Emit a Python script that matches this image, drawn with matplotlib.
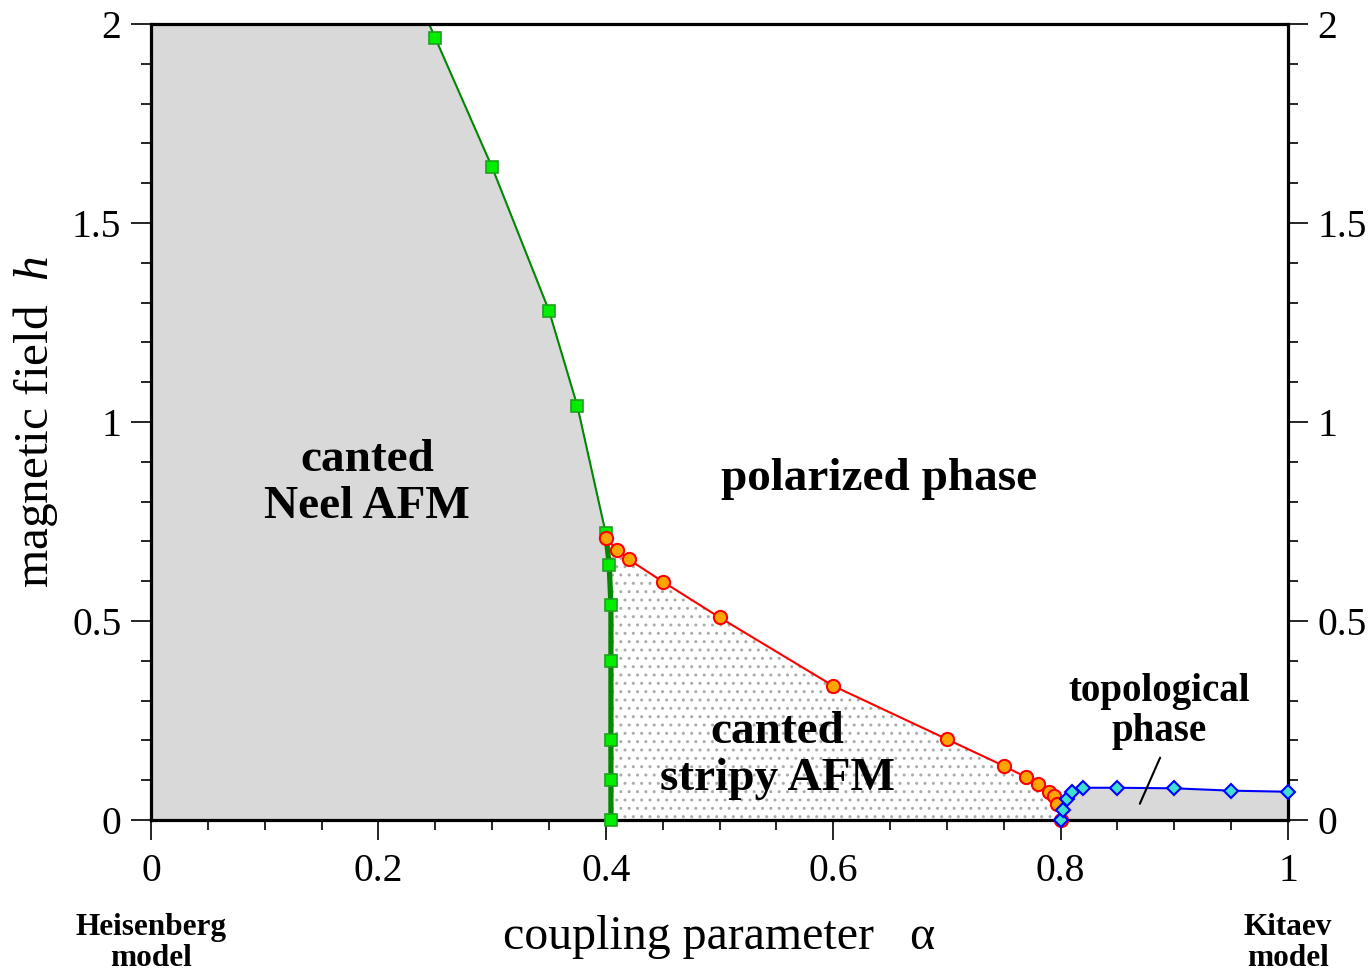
import numpy as np
import matplotlib
matplotlib.use("Agg")
import matplotlib.pyplot as plt
from matplotlib.ticker import MultipleLocator, FuncFormatter

# ---- data ----
green_alpha = [0.2446, 0.25, 0.30, 0.35, 0.375, 0.40, 0.403, 0.4045, 0.4045, 0.4045, 0.4045, 0.4045]
green_h     = [2.00, 1.965, 1.64, 1.28, 1.04, 0.72, 0.64, 0.54, 0.40, 0.20, 0.10, 0.00]

red_alpha = [0.40, 0.41, 0.42, 0.45, 0.50, 0.60, 0.70, 0.75, 0.77, 0.78, 0.79, 0.794, 0.797, 0.80]
red_h     = [0.709, 0.678, 0.655, 0.599, 0.509, 0.337, 0.203, 0.136, 0.107, 0.090, 0.071, 0.060, 0.039, 0.0]

blue_alpha = [0.80, 0.802, 0.806, 0.81, 0.82, 0.85, 0.90, 0.95, 1.00]
blue_h     = [0.0, 0.025, 0.052, 0.071, 0.081, 0.081, 0.0796, 0.0737, 0.071]

x_ticks = [0, 0.2, 0.4, 0.6, 0.8, 1]
y_ticks = [0, 0.5, 1, 1.5, 2]

plt.rcParams['font.family'] = ['Liberation Serif', 'DejaVu Serif']
plt.rcParams['mathtext.fontset'] = 'custom'
plt.rcParams['mathtext.rm'] = 'Liberation Serif'
plt.rcParams['mathtext.it'] = 'Liberation Serif:italic'
plt.rcParams['hatch.color'] = '#acacac'
plt.rcParams['hatch.linewidth'] = 1.0

fig = plt.figure(figsize=(13.72, 9.71), dpi=100)
ax = fig.add_axes([151/1372, 1-820/971, (1288-151)/1372, (820-24)/971])
ax.set_xlim(0, 1)
ax.set_ylim(0, 2)

gray = '#d9d9d9'
ga = np.array(green_alpha); gh = np.array(green_h)
ra = np.array(red_alpha); rh = np.array(red_h)

# canted Neel region
ax.fill_betweenx(gh, 0, ga, color=gray, lw=0, zorder=1)
# canted stripy region (stippled)
thick = ga >= 0.40
poly_x = np.concatenate([ra, ga[thick][::-1]])
poly_y = np.concatenate([rh, gh[thick][::-1]])
ax.fill(poly_x, poly_y, facecolor='white', edgecolor='#acacac', hatch='..', lw=0, zorder=1)
# topological region
ax.fill_between(blue_alpha, 0, blue_h, color=gray, lw=0, zorder=1)

# green boundary
idx_thin = np.where(ga <= 0.40)[0]
ax.plot(ga[idx_thin], gh[idx_thin], color='#008800', lw=1.5, zorder=3)
ax.plot(ga[thick], gh[thick], color='#008800', lw=3.8, zorder=3)
ax.plot(ga[1:], gh[1:], ls='none', marker='s', ms=8.5, mfc='#00ee00', mec='#20a020',
        mew=1.2, zorder=5, clip_on=False)
# red boundary
ax.plot(red_alpha, red_h, color='#ff0000', lw=1.5, marker='o', ms=9.5, mfc='#ffa500',
        mec='#ff0000', mew=1.5, zorder=6, clip_on=False)
# blue boundary
ax.plot(blue_alpha, blue_h, color='#0000ff', lw=1.5, marker='D', ms=7.5, mfc='#40e0d0',
        mec='#0000ff', mew=1.5, zorder=7, clip_on=False)

# ticks
for s in ax.spines.values():
    s.set_linewidth(2.3)
    s.set_zorder(4)
ax.set_xticks(x_ticks)
ax.set_yticks(y_ticks)
fmt = FuncFormatter(lambda v, p: ('%g' % v))
ax.xaxis.set_major_formatter(fmt)
ax.yaxis.set_major_formatter(fmt)
ax.xaxis.set_minor_locator(MultipleLocator(0.05))
ax.yaxis.set_minor_locator(MultipleLocator(0.1))
ax.tick_params(axis='x', which='both', direction='out', top=False, bottom=True)
ax.tick_params(axis='y', which='both', direction='out', left=True, right=True,
               labelleft=True, labelright=True)
ax.tick_params(which='major', length=14.4, width=1.2, labelsize=28.5)
ax.tick_params(which='minor', length=7.2, width=1.2)
ax.tick_params(axis='x', which='major', pad=9)
ax.tick_params(axis='y', which='major', pad=7)

ax.set_xlabel('coupling parameter   \u03b1', fontsize=34.5)
ax.set_ylabel('magnetic field  $h$', fontsize=35.5)
ax.xaxis.set_label_coords(0.5, (820-937)/796)
ax.xaxis.label.set_va('center')
ax.yaxis.set_label_coords((36-151)/1137, 0.5)
ax.yaxis.label.set_va('center')

# phase labels
kw = dict(fontweight='bold', ha='center', va='center', zorder=8)
ax.text(0.19, 0.846, 'canted\nNeel AFM', fontsize=34, linespacing=1.15, **kw)
ax.text(0.640, 0.858, 'polarized phase', fontsize=34, **kw)
ax.text(0.5506, 0.163, 'canted\nstripy AFM', fontsize=34, linespacing=1.15, **kw)
ax.text(0.887, 0.272, 'topological\nphase', fontsize=28, linespacing=1.12, **kw)
ax.annotate('', xy=(0.8687, 0.0344), xytext=(0.8885, 0.163),
            arrowprops=dict(arrowstyle='-', color='black', lw=1.5), zorder=8)

ax.text(0.0, (820-943)/796, 'Heisenberg\nmodel', transform=ax.transAxes, fontsize=22.5,
        fontweight='bold', ha='center', va='center', linespacing=1.05)
ax.text(1.0, (820-943)/796, 'Kitaev\nmodel', transform=ax.transAxes, fontsize=22.5,
        fontweight='bold', ha='center', va='center', linespacing=1.05)

fig.savefig('out.png', dpi=100)
